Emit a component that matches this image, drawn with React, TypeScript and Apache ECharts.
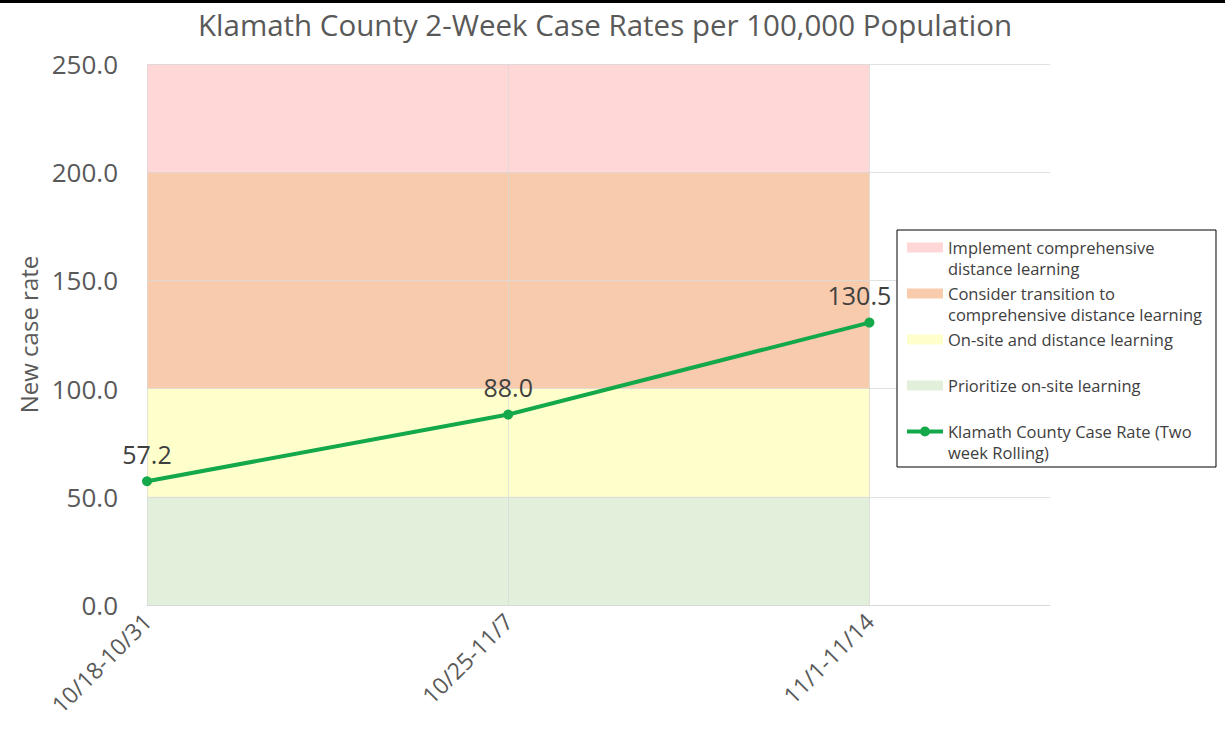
import React, { useEffect, useRef } from "react";
import * as echarts from "echarts";

const titleText = "Klamath County 2-Week Case Rates per 100,000 Population";
const categories = ["10/18-10/31", "10/25-11/7", "11/1-11/14"];
const caseRates = [57.2, 88.0, 130.5];
// upper limit of each guidance band at each category
const greenBandTop = [50, 50, 50];
const yellowBandTop = [100, 100, 100];
const orangeBandTop = [200, 200, 200];
const pinkBandTop = [250, 250, 250];
const yMin = 0;
const yMax = 250;
const yStep = 50;

const lineName = "Klamath County Case Rate (Two week Rolling)";
const bandNames = [
  "Prioritize on-site learning",
  "On-site and distance learning",
  "Consider transition to comprehensive distance learning",
  "Implement comprehensive distance learning",
];
const legendLabels: Record<string, string> = {
  "Implement comprehensive distance learning": "Implement comprehensive\ndistance learning",
  "Consider transition to comprehensive distance learning": "Consider transition to\ncomprehensive distance learning",
  "On-site and distance learning": "On-site and distance learning\n ",
  "Prioritize on-site learning": "Prioritize on-site learning\n ",
  [lineName]: "Klamath County Case Rate (Two\nweek Rolling)",
};

const bandColors = ["#e2efda", "#ffffcc", "#f8cbad", "#ffd7d7"];
const lineColor = "#13a84a";
const FONT = "'Open Sans', 'Noto Sans', sans-serif";

const swatchIcon = "path://M0,0h0.01v0.01h-0.01z M0,5.5h36v10h-36z M0,41.99h0.01v0.01h-0.01z";
const lineIcon =
  "path://M0,0h0.01v0.01h-0.01z M0,8.5h14v4h-14z M22,8.5h14v4h-14z M13,10.5a5,5 0 1,1 10,0a5,5 0 1,1 -10,0z M0,41.99h0.01v0.01h-0.01z";

export default function App() {
  const ref = useRef<HTMLDivElement>(null);
  useEffect(() => {
    if (!ref.current) return;
    const chart = echarts.init(ref.current, null, { renderer: "svg" });
    const bandData = [greenBandTop, yellowBandTop, orangeBandTop, pinkBandTop];
    const bandSeries = bandData
      .map((vals, k) => ({
        name: bandNames[k],
        type: "line",
        silent: true,
        symbol: "none",
        z: 1,
        lineStyle: { width: 0 },
        itemStyle: { color: bandColors[k] },
        areaStyle: { color: bandColors[k], opacity: 1, origin: "start" },
        data: vals.map((v, i) => [i, v]),
      }))
      .reverse();
    chart.setOption({
      animation: false,
      textStyle: { fontFamily: FONT },
      title: {
        text: titleText,
        left: 193,
        top: 4,
        textStyle: { fontSize: 29.5, fontWeight: "normal", color: "#595959", fontFamily: FONT },
      },
      graphic: [
        { type: "rect", left: 0, top: 0, shape: { width: 1225, height: 3 }, style: { fill: "#000" } },
      ],
      grid: { left: 147, right: 175, top: 64, bottom: 127, containLabel: false },
      legend: {
        orient: "vertical",
        left: 897,
        top: 230,
        backgroundColor: "#fff",
        borderColor: "#000",
        borderWidth: 1,
        borderRadius: 0,
        padding: [7, 14, 4, 10],
        itemGap: 4,
        itemWidth: 36,
        itemHeight: 42,
        selectedMode: false,
        z: 6,
        formatter: (n: string) => legendLabels[n] ?? n,
        textStyle: { fontSize: 16.5, color: "#404040", lineHeight: 21, fontFamily: FONT },
        data: [
          { name: bandNames[3], icon: swatchIcon },
          { name: bandNames[2], icon: swatchIcon },
          { name: bandNames[1], icon: swatchIcon },
          { name: bandNames[0], icon: swatchIcon },
          { name: lineName, icon: lineIcon },
        ],
      },
      xAxis: {
        type: "value",
        min: 0,
        max: categories.length - 0.5,
        interval: 1,
        z: 3,
        axisLine: { show: true, lineStyle: { color: "#d9d9d9" } },
        axisTick: { show: false },
        splitLine: {
          show: true,
          lineStyle: { color: ["#d9d9d9", "#d9d9d9", "#d9d9d9", "rgba(0,0,0,0)"], opacity: 0.7 },
        },
        axisLabel: {
          rotate: 45,
          fontSize: 23,
          color: "#595959",
          margin: 12,
          formatter: (v: number) => (Number.isInteger(v) ? categories[v] ?? "" : ""),
        },
      },
      yAxis: {
        type: "value",
        min: yMin,
        max: yMax,
        interval: yStep,
        z: 3,
        name: "New case rate",
        nameLocation: "middle",
        nameGap: 103,
        nameTextStyle: { fontSize: 24, color: "#595959" },
        axisLine: { show: false },
        axisTick: { show: false },
        splitLine: { show: true, lineStyle: { color: "#d9d9d9", opacity: 0.8 } },
        axisLabel: {
          fontSize: 26,
          color: "#595959",
          margin: 29,
          formatter: (v: number) => v.toFixed(1),
        },
      },
      series: [
        ...bandSeries,
        {
          name: lineName,
          type: "line",
          z: 5,
          symbol: "circle",
          symbolSize: 10,
          lineStyle: { color: lineColor, width: 4 },
          itemStyle: { color: lineColor },
          label: {
            show: true,
            position: "top",
            distance: 10,
            fontSize: 25,
            color: "#404040",
            formatter: (p: any) => Number(p.value[1]).toFixed(1),
          },
          labelLayout: (p: any) => (p.dataIndex === caseRates.length - 1 ? { dx: -10 } : {}),
          data: caseRates.map((v, i) => [i, v]),
        },
      ],
    });
    return () => chart.dispose();
  }, []);
  return (
    <div
      ref={ref}
      style={{ position: "fixed", left: 0, top: 0, width: 1225, height: 732, background: "#fff" }}
    />
  );
}
